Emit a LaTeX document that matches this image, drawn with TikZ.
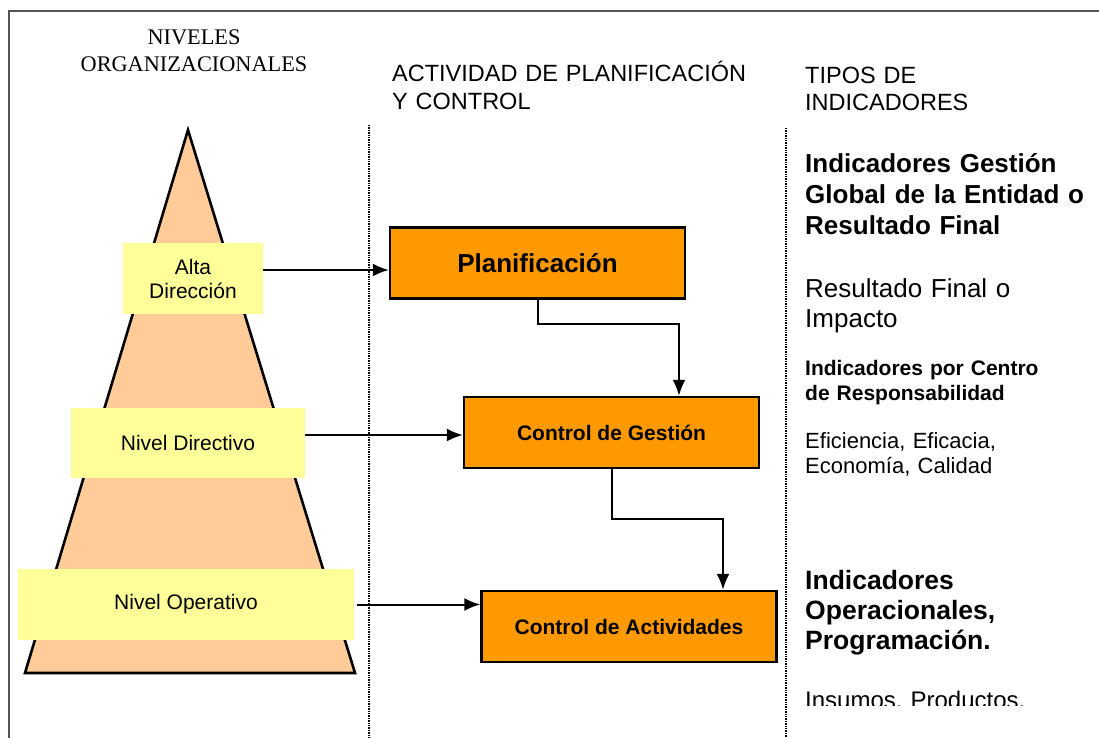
\documentclass[tikz,border=0pt]{standalone}
\usepackage{fontspec}
\setmainfont{Liberation Sans}
\newfontfamily\timesfont{Liberation Serif}
\usetikzlibrary{arrows.meta, positioning, calc}
\definecolor{durazno}{HTML}{FFCC99}
\definecolor{amarillo}{HTML}{FFFF99}
\definecolor{naranja}{HTML}{FF9900}
\definecolor{marco}{HTML}{555555}
\newcommand{\tam}[2]{\fontsize{#1}{#2}\selectfont}

\begin{document}
\begin{tikzpicture}[x=1pt, y=-1pt,
  nivel/.style={shape=rectangle, fill=amarillo, inner sep=0pt, font=\tam{21}{24}, align=center},
  caja/.style={shape=rectangle, minimum height=71pt, minimum width=295pt, draw=black, line width=2.4pt, fill=naranja, font=\bfseries\tam{21}{25}},
  texto/.style={anchor=base west, inner sep=0pt, text width=294pt, align=left},
  flecha/.style={-{Latex[length=16pt,width=13pt]}, line width=2pt}]
\useasboundingbox (0,0) rectangle (1099,738);
% marco y columnas
\draw[marco, line width=2.4pt] (1099,11) -- (9,11) -- (9,738);
\draw[densely dotted, line width=1.4pt] (369,125) -- (369,738);
\draw[densely dotted, line width=1.4pt] (786,128) -- (786,738);
% piramide
\draw[line width=2.6pt, fill=durazno] (188,130) -- (355,673) -- (25,673) -- cycle;
% encabezados
\node[anchor=base, inner sep=0pt, text width=300pt, align=center, font=\timesfont\tam{22.3}{27}] (niveles) at (194,45) {NIVELES\\ORGANIZACIONALES};
\node[texto, text width=380pt, font=\tam{23.5}{28}] (actividad) at (392,82) {ACTIVIDAD DE PLANIFICACIÓN\\Y CONTROL};
\node[texto, font=\tam{23.5}{27}] (tipos) at (805,84) {TIPOS DE\\INDICADORES};
% niveles
\node[nivel, minimum width=140pt, minimum height=71pt] (alta) at (193,278.5) {Alta\\Dirección};
\node[nivel, minimum width=234pt, minimum height=70pt] (dir) at (188,443) {Nivel Directivo};
\node[nivel, minimum width=336pt, minimum height=71pt] (oper) at (186,604.5) {Nivel Operativo};
% actividades
\node[caja, font=\bfseries\tam{26}{30}] (plan) at (537.5,263) {\raisebox{-5pt}{Planificación}};
\node[caja] (cges) at (611.5,432.5) {Control de Gestión};
\node[caja] (cact) at (629,626.5) {Control de Actividades};
% indicadores
\node[texto, font=\bfseries\tam{26}{31}] (global) at (805,172) {Indicadores Gestión\\Global de la Entidad o\\Resultado Final};
\node[texto, font=\tam{26}{30}] (impacto) at (805,297) {Resultado Final o\\Impacto};
\node[texto, font=\bfseries\tam{21}{25}] (centro) at (805,375) {Indicadores por Centro\\de Responsabilidad};
\node[texto, font=\tam{22}{25}] (eficiencia) at (805,448) {Eficiencia, Eficacia,\\Economía, Calidad};
\node[texto, font=\bfseries\tam{26.5}{30}] (operacional) at (805,589) {Indicadores\\Operacionales,\\Programación.};
\begin{scope}
\clip (790,600) rectangle (1099,705);
\node[texto, font=\tam{24}{28}] (insumos) at (805,708) {Insumos, Productos,};
\end{scope}
% flechas
\coordinate (a1) at ([yshift=8.5pt]alta.east);
\coordinate (a2) at ([yshift=8pt]dir.east);
\coordinate (a3) at ([xshift=3pt]oper.east);
\draw[flecha] (a1) -- (a1 -| plan.west);
\draw[flecha] (a2) -- (a2 -| cges.west);
\draw[flecha] (a3) -- (a3 -| cact.west);
\draw[flecha] (plan.south) -- ++(0,24) -| ([xshift=67.5pt]cges.north);
\draw[flecha] (cges.south) -- ++(0,50) -| ([xshift=94pt]cact.north);
\end{tikzpicture}
\end{document}
